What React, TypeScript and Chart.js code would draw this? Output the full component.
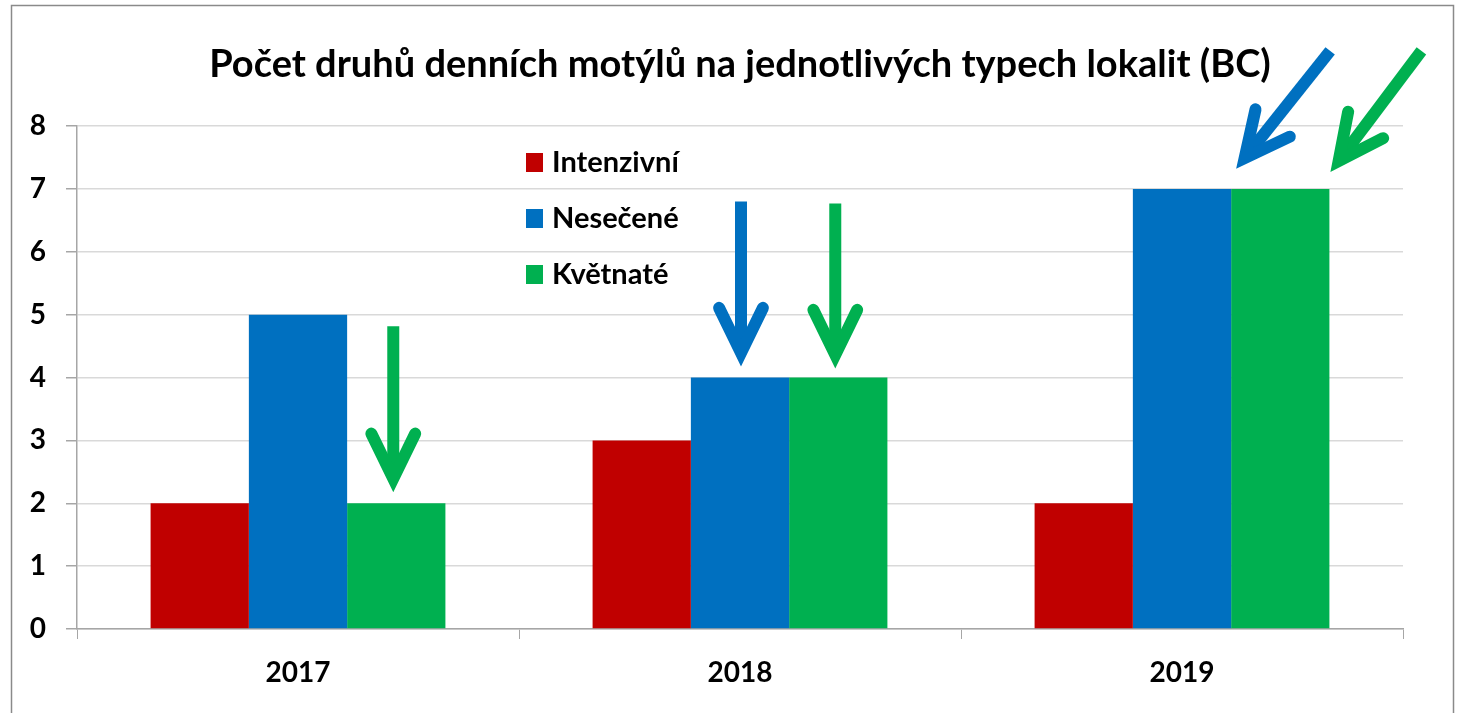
import { useEffect, useRef } from 'react';
import { Chart, registerables } from 'chart.js';
Chart.register(...registerables);

const chartTitle = 'Počet druhů denních motýlů na jednotlivých typech lokalit (BC)';
const categories = ['2017', '2018', '2019'];
const seriesNames = ['Intenzivní', 'Nesečené', 'Květnaté'];
const intenzivni = [2, 3, 2];
const neseceni = [5, 4, 7];
const kvetnate = [2, 4, 7];
const yMin = 0;
const yMax = 8;
const yStep = 1;

const seriesColors = ['#C00000', '#0070C0', '#00B050'];

// Arrow annotations, each pointing at one bar (dataset index, category index)
const arrowTargets = [
  { dataset: 2, index: 0, anchor: 'center', dx: -3, dy: -11, tailDx: 0, tailDy: -166 },
  { dataset: 1, index: 1, anchor: 'center', dx: 1, dy: -11, tailDx: 0, tailDy: -165 },
  { dataset: 2, index: 1, anchor: 'center', dx: -3, dy: -9, tailDx: 0, tailDy: -165 },
  { dataset: 1, index: 2, anchor: 'right', dx: 5, dy: -20, tailDx: 94, tailDy: -118 },
  { dataset: 2, index: 2, anchor: 'right', dx: 1, dy: -17, tailDx: 91, tailDy: -121 },
];

const FONT = 'Lato, "Open Sans", sans-serif';

function drawArrow(ctx: CanvasRenderingContext2D, tx: number, ty: number, sx: number, sy: number, color: string) {
  const L = Math.hypot(sx - tx, sy - ty);
  const ux = (sx - tx) / L;
  const uy = (sy - ty) / L;
  const w = 12;
  const head = 50;
  const ang = (26 * Math.PI) / 180;
  const miter = w / 2 / Math.sin(ang);
  const px = tx + ux * miter;
  const py = ty + uy * miter;
  ctx.save();
  ctx.strokeStyle = color;
  ctx.lineWidth = w;
  ctx.lineCap = 'butt';
  ctx.beginPath();
  ctx.moveTo(sx, sy);
  ctx.lineTo(px + ux * 6, py + uy * 6);
  ctx.stroke();
  const rot = (a: number) => [ux * Math.cos(a) - uy * Math.sin(a), ux * Math.sin(a) + uy * Math.cos(a)];
  const [ax, ay] = rot(ang);
  const [bx, by] = rot(-ang);
  ctx.lineJoin = 'miter';
  ctx.miterLimit = 10;
  ctx.lineCap = 'round';
  ctx.beginPath();
  ctx.moveTo(px + ax * head, py + ay * head);
  ctx.lineTo(px, py);
  ctx.lineTo(px + bx * head, py + by * head);
  ctx.stroke();
  ctx.restore();
}

const decorPlugin = {
  id: 'decor',
  beforeDraw(chart: any) {
    const ctx = chart.ctx as CanvasRenderingContext2D;
    ctx.save();
    ctx.fillStyle = '#ffffff';
    ctx.fillRect(0, 0, chart.width, chart.height);
    ctx.strokeStyle = '#8a8a8a';
    ctx.lineWidth = 1.5;
    ctx.strokeRect(11.5, 5.5, 1442, 760);
    ctx.restore();
  },
  afterDatasetsDraw(chart: any) {
    const ctx = chart.ctx as CanvasRenderingContext2D;
    arrowTargets.forEach((a) => {
      const bar: any = chart.getDatasetMeta(a.dataset).data[a.index];
      if (!bar) return;
      const baseX = a.anchor === 'right' ? bar.x + bar.width / 2 : bar.x;
      const tx = baseX + a.dx;
      const ty = bar.y + a.dy;
      drawArrow(ctx, tx, ty, tx + a.tailDx, ty + a.tailDy, seriesColors[a.dataset]);
    });
  },
  afterDraw(chart: any) {
    const ctx = chart.ctx as CanvasRenderingContext2D;
    const area = chart.chartArea;
    ctx.save();
    ctx.fillStyle = '#000000';
    ctx.font = `bold 38px ${FONT}`;
    ctx.textAlign = 'center';
    ctx.textBaseline = 'alphabetic';
    ctx.fillText(chartTitle, (area.left + area.right) / 2, 77);
    // legend inside plot area
    ctx.font = `bold 29px ${FONT}`;
    ctx.textAlign = 'left';
    chart.data.datasets.forEach((ds: any, i: number) => {
      const baseline = 172 + i * 56;
      ctx.fillStyle = ds.backgroundColor;
      ctx.fillRect(526, baseline - 19, 17, 19);
      ctx.fillStyle = '#000000';
      ctx.fillText(ds.label, 552, baseline);
    });
    ctx.restore();
  },
};

export default function App() {
  const ref = useRef<HTMLCanvasElement | null>(null);
  useEffect(() => {
    if (!ref.current) return;
    const chart = new Chart(ref.current, {
      type: 'bar',
      data: {
        labels: categories,
        datasets: [
          { label: seriesNames[0], data: intenzivni, backgroundColor: seriesColors[0] },
          { label: seriesNames[1], data: neseceni, backgroundColor: seriesColors[1] },
          { label: seriesNames[2], data: kvetnate, backgroundColor: seriesColors[2] },
        ],
      },
      options: {
        animation: false,
        responsive: false,
        devicePixelRatio: 1,
        layout: { padding: { top: 126, right: 54, left: 0, bottom: 0 } },
        datasets: { bar: { categoryPercentage: 0.667, barPercentage: 1.0, borderWidth: 0 } },
        plugins: { legend: { display: false }, title: { display: false }, tooltip: { enabled: false } },
        scales: {
          x: {
            grid: { display: true, drawOnChartArea: false, drawTicks: true, tickLength: 10, color: '#a6a6a6', offset: true },
            border: { color: '#a6a6a6', width: 1.5 },
            ticks: { color: '#000', font: { family: FONT, size: 28, weight: 'bold' }, padding: 17 },
            afterFit: (s: any) => { s.height = 84; },
          },
          y: {
            min: yMin,
            max: yMax,
            grid: { color: '#d9d9d9', lineWidth: 1.5, tickLength: 11, tickColor: '#a6a6a6' },
            border: { color: '#a6a6a6', width: 1.5 },
            ticks: { stepSize: yStep, color: '#000', font: { family: FONT, size: 28, weight: 'bold' }, padding: 20 },
            afterFit: (s: any) => { s.width = 77; },
          },
        },
      },
      plugins: [decorPlugin],
    });
    return () => chart.destroy();
  }, []);
  return (
    <div style={{ position: 'fixed', left: 0, top: 0, width: 1457, height: 713 }}>
      <canvas ref={ref} width={1457} height={713} />
    </div>
  );
}
